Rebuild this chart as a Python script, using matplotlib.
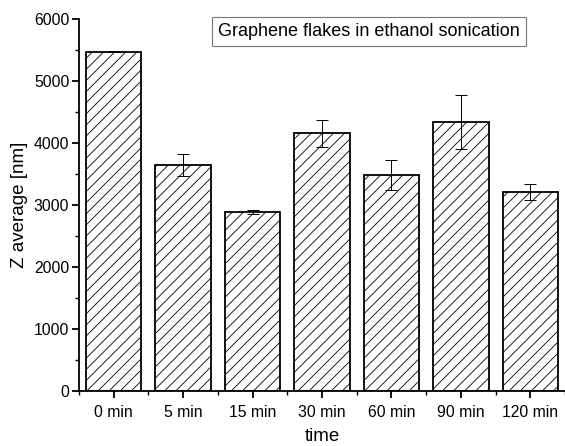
import matplotlib
matplotlib.use("Agg")
import matplotlib.pyplot as plt
from matplotlib.ticker import MultipleLocator, FixedLocator

plt.rcParams['font.family'] = ['Liberation Sans', 'DejaVu Sans']
plt.rcParams['hatch.color'] = '#555555'
plt.rcParams['hatch.linewidth'] = 0.6

categories = ['0 min', '5 min', '15 min', '30 min', '60 min', '90 min', '120 min']
values = [5470, 3645, 2887, 4156, 3490, 4339, 3210]
errors = [8, 175, 30, 215, 240, 430, 135]

fig = plt.figure(figsize=(5.65, 4.46), dpi=100)
ax = fig.add_axes([79/565, 1-391/446, 1-79/565, (391-19)/446])

x = list(range(len(categories)))
ax.bar(x, values, width=0.8, color='white', edgecolor='black', linewidth=1.3,
       hatch='///', zorder=2)
ax.errorbar(x, values, yerr=errors, fmt='none', ecolor='black', elinewidth=0.7,
            capsize=4, capthick=0.7, zorder=3)

ax.set_xlim(-0.5, len(categories) - 0.5)
ax.set_ylim(0, 6000)
ax.set_xticks(x)
ax.set_xticklabels(categories)
ax.xaxis.set_minor_locator(FixedLocator([i + 0.5 for i in range(-1, len(categories))]))
ax.yaxis.set_major_locator(MultipleLocator(1000))
ax.yaxis.set_minor_locator(MultipleLocator(500))

for s in ['top', 'right']:
    ax.spines[s].set_visible(False)
for s in ['left', 'bottom']:
    ax.spines[s].set_linewidth(1.3)

ax.tick_params(which='major', direction='out', length=5, width=1.3, labelsize=11.3, pad=5)
ax.tick_params(which='minor', direction='out', length=3, width=1.0)
ax.tick_params(axis='y', which='major', pad=2)

ax.set_xlabel('time', fontsize=13.5, labelpad=5.5)
ax.set_ylabel('Z average [nm]', fontsize=13.5, labelpad=4)

fig.text(369/565, 1-31.5/446, 'Graphene flakes in ethanol sonication',
         fontsize=13, ha='center', va='center',
         bbox=dict(boxstyle='square,pad=0.32', facecolor='white', edgecolor='#777777', linewidth=0.8))

fig.savefig('out.png', dpi=100)
